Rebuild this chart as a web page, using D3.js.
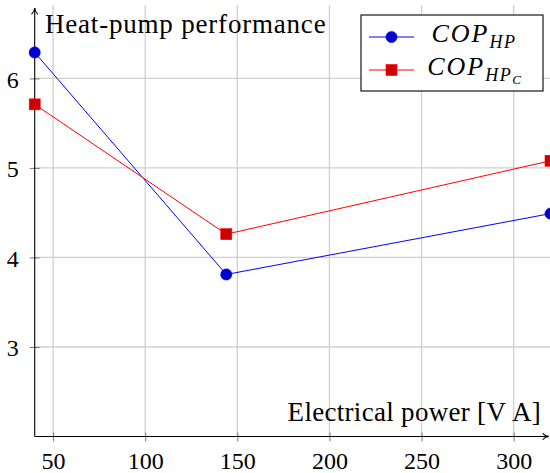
<!DOCTYPE html>
<html>
<head>
<meta charset="utf-8">
<script src="https://cdn.jsdelivr.net/npm/d3@7"></script>
</head>
<body style="margin:0">
<svg id="chart" width="550" height="473"></svg>
<script>
// data
let power = [40, 144, 320];
let copHP = [6.29, 3.81, 4.49];
let copHPC = [5.71, 4.26, 5.08];
let xTicks = [50, 100, 150, 200, 250, 300];
let yTicks = [3, 4, 5, 6];
let seriesNames = ["COP", "COP"];

const SERIF = '"Liberation Serif", Tinos, "Times New Roman", serif';

let svg = d3.select("#chart");

let xScale = d3.scaleLinear().domain([40, 320]).range([34.7, 550.5]);
let yScale = d3.scaleLinear().domain([2, 6.82]).range([436.5, 5]);

let plotLeft = xScale.range()[0], plotRight = xScale.range()[1];
let plotBottom = yScale.range()[0], plotTop = yScale.range()[1];

// grid
let grid = svg.append("g");
grid.selectAll("line.vx")
  .data(xTicks)
  .enter()
  .append("line")
  .attr("x1", d => xScale(d)).attr("x2", d => xScale(d))
  .attr("y1", plotTop).attr("y2", plotBottom)
  .attr("stroke", "#cfcfcf").attr("stroke-width", 1.3);
grid.selectAll("line.hy")
  .data(yTicks)
  .enter()
  .append("line")
  .attr("y1", d => yScale(d)).attr("y2", d => yScale(d))
  .attr("x1", plotLeft).attr("x2", plotRight)
  .attr("stroke", "#cfcfcf").attr("stroke-width", 1.3);

// axes (ticks cross the axis line)
let xAxis = d3.axisBottom(xScale).tickValues(xTicks).tickFormat(d3.format("d"))
  .tickSize(5).tickSizeOuter(0).tickPadding(10);
let yAxis = d3.axisLeft(yScale).tickValues(yTicks).tickFormat(d3.format("d"))
  .tickSize(5).tickSizeOuter(0).tickPadding(11);

let gx = svg.append("g").attr("transform", `translate(0,${plotBottom})`).call(xAxis);
gx.attr("font-family", SERIF).attr("font-size", 24);
gx.select(".domain").remove();
gx.selectAll(".tick line").attr("y1", -4).attr("y2", 5).attr("stroke", "#777");
gx.selectAll(".tick text").attr("fill", "#000");

let gy = svg.append("g").attr("transform", `translate(${plotLeft},0)`).call(yAxis);
gy.attr("font-family", SERIF).attr("font-size", 24);
gy.select(".domain").remove();
gy.selectAll(".tick line").attr("x1", 5).attr("x2", -5).attr("stroke", "#777");
gy.selectAll(".tick text").attr("fill", "#000").attr("dy", "0.36em");

// axis lines with arrows
let defs = svg.append("defs");
defs.append("marker")
  .attr("id", "arrow")
  .attr("viewBox", "0 0 10 10")
  .attr("refX", 9).attr("refY", 5)
  .attr("markerWidth", 8).attr("markerHeight", 8)
  .attr("markerUnits", "userSpaceOnUse")
  .attr("orient", "auto")
  .append("path")
  .attr("d", "M1,1 Q5,5 9,5 Q5,5 1,9")
  .attr("fill", "none").attr("stroke", "#000").attr("stroke-width", 1.3);

svg.append("line")
  .attr("x1", plotLeft).attr("x2", plotLeft)
  .attr("y1", plotBottom).attr("y2", 8)
  .attr("stroke", "#000").attr("stroke-width", 1.1)
  .attr("marker-end", "url(#arrow)");
svg.append("line")
  .attr("x1", plotLeft).attr("x2", 549)
  .attr("y1", plotBottom).attr("y2", plotBottom)
  .attr("stroke", "#000").attr("stroke-width", 1.1)
  .attr("marker-end", "url(#arrow)");

// axis labels
svg.append("text")
  .attr("x", 45).attr("y", 33)
  .attr("font-family", SERIF)
  .attr("font-size", 27)
  .attr("letter-spacing", 0.8)
  .text("Heat-pump performance");
svg.append("text")
  .attr("x", 541).attr("y", 421)
  .attr("text-anchor", "end")
  .attr("font-family", SERIF)
  .attr("font-size", 27)
  .attr("letter-spacing", 0.3)
  .text("Electrical power [V\u2009A]");

// series
let series = [
  { name: seriesNames[0], sub: "HP", values: copHP, line: "#0000ff", fill: "#0000cc", mark: "circle" },
  { name: seriesNames[1], sub: "HP", subsub: "C", values: copHPC, line: "#ff0000", fill: "#cc0000", mark: "square" }
];

let lineGen = d3.line()
  .x((d, i) => xScale(power[i]))
  .y(d => yScale(d));

series.forEach(function(s) {
  svg.append("path")
    .datum(s.values)
    .attr("d", lineGen)
    .attr("fill", "none")
    .attr("stroke", s.line)
    .attr("stroke-width", 1);
});

function drawMark(g, s, cx, cy) {
  if (s.mark === "circle") {
    g.append("circle")
      .attr("cx", cx).attr("cy", cy).attr("r", 5.6)
      .attr("fill", s.fill).attr("stroke", s.line).attr("stroke-width", 0.6);
  } else {
    g.append("rect")
      .attr("x", cx - 5.5).attr("y", cy - 5.5)
      .attr("width", 11).attr("height", 11)
      .attr("fill", s.fill).attr("stroke", s.line).attr("stroke-width", 0.6);
  }
}

series.forEach(function(s) {
  let g = svg.append("g");
  s.values.forEach(function(v, i) {
    drawMark(g, s, xScale(power[i]), yScale(v));
  });
});

// legend
let legend = svg.append("g");
legend.append("rect")
  .attr("x", 361).attr("y", 15)
  .attr("width", 182).attr("height", 76)
  .attr("fill", "#fff").attr("stroke", "#000").attr("stroke-width", 1.1);

series.forEach(function(s, i) {
  let cy = 37 + i * 33;
  legend.append("line")
    .attr("x1", 369).attr("x2", 414)
    .attr("y1", cy).attr("y2", cy)
    .attr("stroke", s.line).attr("stroke-width", 1);
  drawMark(legend, s, 391.5, cy);
  let t = legend.append("text")
    .attr("x", 474).attr("y", cy + 4.5)
    .attr("text-anchor", "middle")
    .attr("font-family", SERIF)
    .attr("font-size", 26)
    .attr("font-style", "italic");
  t.append("tspan").attr("letter-spacing", 2).text(s.name);
  t.append("tspan").attr("font-size", 18).attr("dy", 6).attr("letter-spacing", 1.5).text(s.sub);
  if (s.subsub) {
    t.append("tspan").attr("font-size", 13).attr("dy", 3).text(s.subsub);
  }
});
</script>
</body>
</html>
